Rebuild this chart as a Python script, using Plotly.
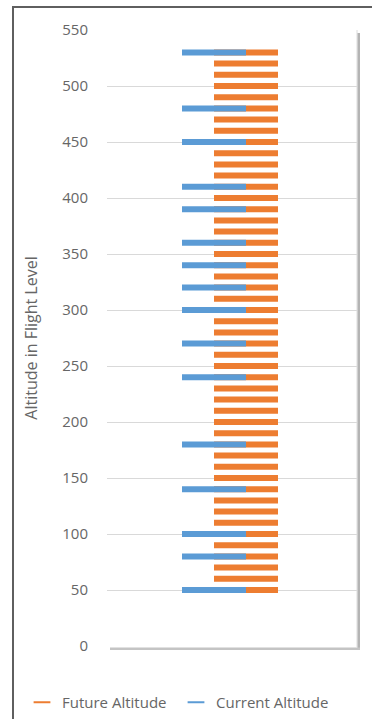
import plotly.graph_objects as go

# Flight levels occupied by each series
future_levels = [50, 60, 70, 80, 90, 100, 110, 120, 130, 140, 150, 160, 170,
                 180, 190, 200, 210, 220, 230, 240, 250, 260, 270, 280, 290,
                 300, 310, 320, 330, 340, 350, 360, 370, 380, 390, 400, 410,
                 420, 430, 440, 450, 460, 470, 480, 490, 500, 510, 520, 530]
current_levels = [50, 80, 100, 140, 180, 240, 270, 300, 320, 340, 360, 390,
                  410, 450, 480, 530]

# Horizontal column position of each series
future_col = 2
current_col = 1

y_ticks = [0, 50, 100, 150, 200, 250, 300, 350, 400, 450, 500, 550]

ORANGE = "#ED7D31"
BLUE = "#5B9BD5"
GRAY_TXT = "#666666"

W, H = 372, 719
L, R, T, B = 107, 15, 30, 73
PW, PH = W - L - R, H - T - B

# dash marker length in px (plotly draws line-ew at 1.4 x size)
DASH = 64 / 1.4


def px_x(x):
    return (x - L) / PW


def px_y(y):
    return 1 - (y - T) / PH


fig = go.Figure()

fig.add_trace(go.Scatter(
    x=[future_col] * len(future_levels), y=future_levels,
    mode="markers", name="Future Altitude", legend="legend",
    showlegend=True,
    marker=dict(symbol="line-ew", size=DASH, color=ORANGE,
                line=dict(color=ORANGE, width=6)),
))
fig.add_trace(go.Scatter(
    x=[current_col] * len(current_levels), y=current_levels,
    mode="markers", name="Current Altitude", legend="legend2",
    showlegend=True,
    marker=dict(symbol="line-ew", size=DASH, color=BLUE,
                line=dict(color=BLUE, width=6)),
))

shapes = [
    # outer frame
    dict(type="rect", xref="paper", yref="paper",
         x0=px_x(13), x1=px_x(420), y0=px_y(7), y1=px_y(780),
         line=dict(color="#5f5f5f", width=2), layer="below"),
    # plot box edge and soft shadow
    dict(type="line", xref="paper", yref="paper",
         x0=px_x(357), x1=px_x(357), y0=px_y(30), y1=px_y(647),
         line=dict(color="#dcdcdc", width=1)),
    dict(type="rect", xref="paper", yref="paper",
         x0=px_x(357.5), x1=px_x(360), y0=px_y(33), y1=px_y(650),
         fillcolor="#b4b4b4", line=dict(width=0)),
    dict(type="rect", xref="paper", yref="paper",
         x0=px_x(110), x1=px_x(360), y0=px_y(647.5), y1=px_y(650),
         fillcolor="#c4c4c4", line=dict(width=0)),
]

legend_style = dict(
    orientation="h", xanchor="left", xref="container",
    y=0, yanchor="bottom", yref="container",
    itemsizing="constant", itemwidth=30,
    font=dict(size=15, color=GRAY_TXT),
    bgcolor="rgba(0,0,0,0)",
)

fig.update_layout(
    width=W, height=H,
    showlegend=True,
    margin=dict(l=L, r=R, t=T, b=B, pad=0),
    paper_bgcolor="white", plot_bgcolor="white",
    font=dict(family="Open Sans", color=GRAY_TXT, size=14),
    xaxis=dict(range=[-2.344, 5.469], visible=False, fixedrange=True),
    yaxis=dict(
        range=[0, 550], tickvals=y_ticks, ticks="",
        showgrid=True, gridcolor="#d9d9d9", gridwidth=1,
        zeroline=False, showline=False,
        tickfont=dict(size=15, color=GRAY_TXT),
        ticklabelstandoff=18,
        title=dict(text="Altitude in Flight Level", standoff=20,
                   font=dict(size=16, color=GRAY_TXT)),
    ),
    legend=dict(x=22 / W, **legend_style),
    legend2=dict(x=176 / W, **legend_style),
    shapes=shapes,
)

fig.write_html("out.html")
